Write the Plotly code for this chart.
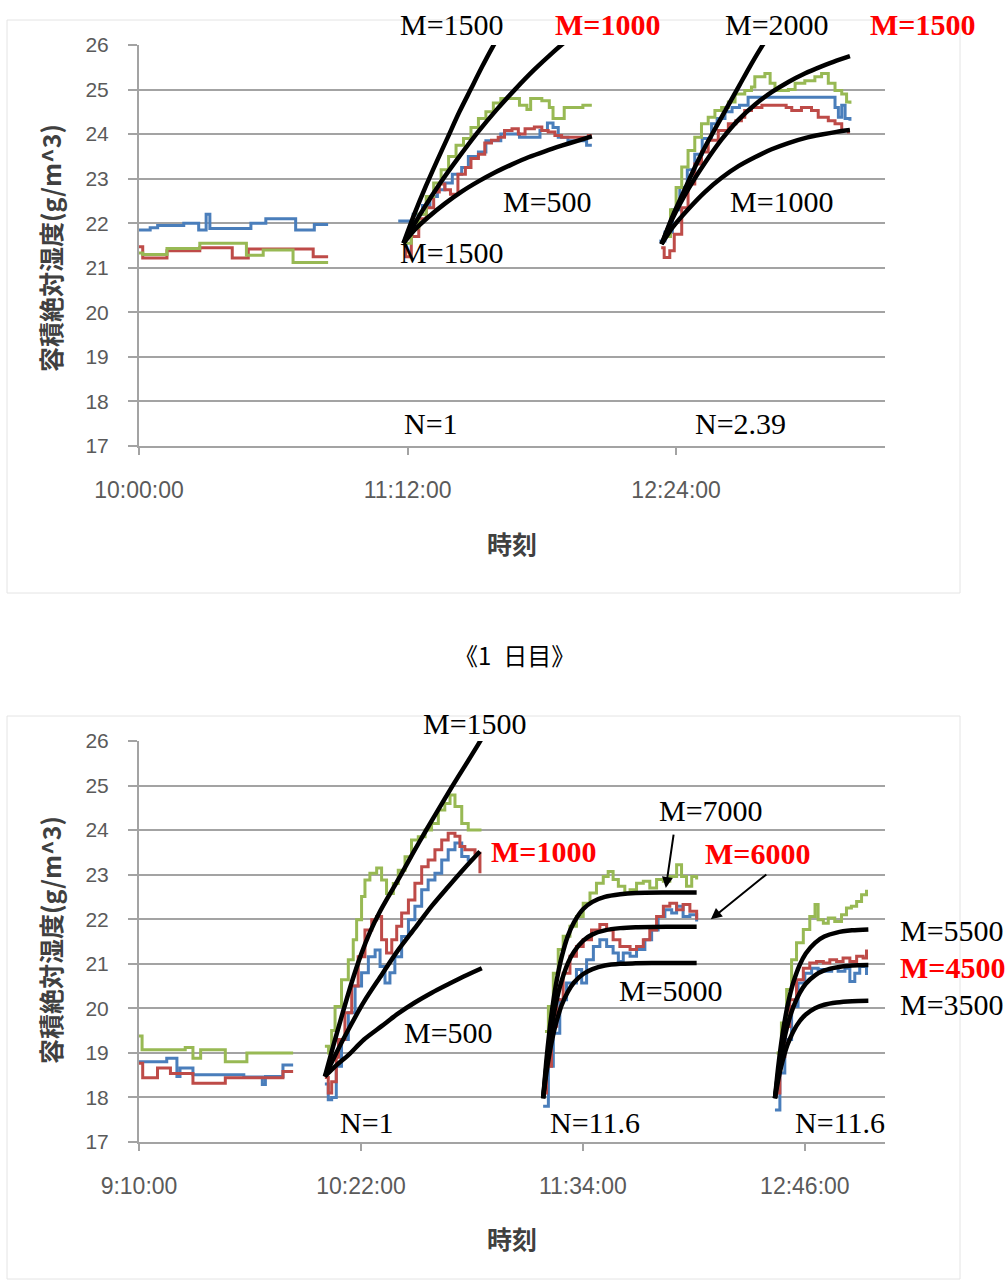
import pandas as pd
import plotly.graph_objects as go

W, H = 1008, 1284

# ---------------- Day 1 : elapsed minutes after 10:00:00 ----------------
d1_base = "2000-01-01 10:00:00"
d1_tick_labels = ["10:00:00", "11:12:00", "12:24:00"]
d1_end_min = 200

# measured absolute humidity, before the occupants enter
d1_pre_blue_t = [0, 3, 5, 12, 16, 18, 19, 30, 34, 42, 47, 50.7]
d1_pre_blue_v = [21.85, 21.90, 21.95, 22.00, 21.85, 22.20, 21.88, 22.00, 22.10, 21.85, 21.97, 21.97]
d1_pre_red_t = [0, 1, 7.5, 16.3, 25, 29.3, 46.7, 50.7]
d1_pre_red_v = [21.47, 21.22, 21.38, 21.45, 21.22, 21.42, 21.25, 21.25]
d1_pre_green_t = [0, 1, 7.5, 16.3, 28.8, 33.3, 41.3, 50.7]
d1_pre_green_v = [21.33, 21.30, 21.43, 21.55, 21.28, 21.40, 21.12, 21.12]

# first occupied period (N=1)
d1_s1_blue_t = [69.5, 73.5, 76, 78, 80, 82, 84, 86.5, 88.3, 91, 93, 97, 102, 107.5, 109.5, 111, 112.4, 115, 120, 121.4]
d1_s1_blue_v = [22.05, 22.2, 22.4, 22.6, 22.75, 22.9, 23.1, 23.25, 23.5, 23.6, 23.85, 24.0, 23.93, 24.08, 24.25, 24.15, 23.93, 23.85, 23.75, 23.75]
d1_s1_red_t = [71, 71.5, 73, 75, 77, 79, 80.5, 82, 83.5, 85.5, 87.5, 89, 91, 92.7, 94.5, 96.3, 98, 100, 101.7, 103.5, 106, 108, 109.7, 111.5, 113.3, 120.5, 121.4]
d1_s1_red_v = [21.5, 21.25, 21.7, 22.1, 22.35, 22.7, 22.88, 22.75, 22.65, 23.1, 23.25, 23.45, 23.55, 23.8, 23.86, 23.93, 24.08, 24.12, 24.0, 24.12, 24.16, 24.08, 24.05, 23.97, 23.93, 23.97, 23.97]
d1_s1_green_t = [70.8, 73, 75, 77, 79, 81, 83, 85, 87, 89, 91, 93, 95, 97, 100, 102, 104, 105, 108, 110, 111, 113, 114, 117, 119, 121.4]
d1_s1_green_v = [21.55, 21.9, 22.2, 22.6, 22.9, 23.2, 23.5, 23.75, 23.9, 24.15, 24.35, 24.5, 24.7, 24.8, 24.8, 24.65, 24.55, 24.8, 24.75, 24.6, 24.35, 24.35, 24.6, 24.6, 24.65, 24.65]

# second occupied period (N=2.39)
d1_s2_blue_t = [139.5, 141, 143, 145, 147, 149, 151, 153.5, 155, 157.1, 159, 161, 163.3, 184.8, 186.6, 187.5, 188.4, 189.3, 190.6]
d1_s2_blue_v = [21.6, 21.8, 22.3, 22.8, 23.2, 23.55, 23.9, 24.23, 24.35, 24.5, 24.6, 24.65, 24.83, 24.83, 24.6, 24.38, 24.65, 24.35, 24.3]
d1_s2_red_t = [140, 140.8, 142.3, 143.5, 145.5, 147.2, 149, 150.8, 152.6, 155.3, 158, 160, 161.5, 162.4, 164.2, 167, 170.5, 173.5, 175, 177.6, 180.3, 182.1, 184.8, 186.6, 188.4, 190.2, 190.6]
d1_s2_red_v = [21.45, 21.23, 21.38, 21.75, 22.35, 22.88, 23.33, 23.6, 23.86, 24.08, 24.23, 24.3, 24.38, 24.53, 24.6, 24.65, 24.65, 24.6, 24.53, 24.6, 24.53, 24.38, 24.3, 24.23, 24.08, 24.05, 24.05]
d1_s2_green_t = [140.5, 142.5, 144, 145.5, 147.2, 149, 150.8, 152.6, 154.4, 156.2, 158, 159.8, 162.4, 164.2, 165.1, 167.8, 169.2, 170.5, 174.1, 175.9, 178.5, 181.2, 183, 184.8, 186.6, 188.4, 189.7, 190.6]
d1_s2_green_v = [21.7, 22.3, 22.8, 23.26, 23.63, 23.93, 24.23, 24.38, 24.53, 24.6, 24.72, 24.9, 24.98, 25.06, 25.29, 25.36, 25.14, 24.98, 25.0, 25.14, 25.2, 25.29, 25.36, 25.14, 24.98, 24.9, 24.72, 24.68]

# calculated curves, period 1 (N=1)
d1_m1500_a_t = [70.9, 73.9, 76.9, 79.9, 82.9, 85.9, 88.9, 91.9, 94.9, 97.9]
d1_m1500_a_v = [21.55, 22.22, 22.83, 23.4, 23.95, 24.5, 25.0, 25.5, 25.97, 26.4]
d1_m1000_a_t = [70.9, 75.9, 80.9, 85.9, 90.9, 95.9, 100.9, 105.9, 110.9, 115.9]
d1_m1000_a_v = [21.55, 22.27, 22.92, 23.5, 24.05, 24.55, 25.01, 25.44, 25.83, 26.19]
d1_m500_a_t = [70.9, 74, 77.6, 82, 86.5, 91, 95.4, 100, 104.4, 109, 113.3, 117.5, 121.4]
d1_m500_a_v = [21.55, 21.86, 22.14, 22.44, 22.71, 22.94, 23.14, 23.32, 23.48, 23.62, 23.74, 23.85, 23.95]

# calculated curves, period 2 (N=2.39)
d1_m2000_b_t = [140.1, 143, 146, 149, 152, 155, 158, 161, 164, 167, 170]
d1_m2000_b_v = [21.53, 22.15, 22.7, 23.25, 23.75, 24.2, 24.65, 25.1, 25.55, 25.97, 26.35]
d1_m1500_b_t = [140.1, 143, 147.3, 151.7, 156.2, 160.7, 165.1, 169.6, 174.1, 178.5, 183, 187, 190.6]
d1_m1500_b_v = [21.53, 22.1, 22.77, 23.35, 23.88, 24.32, 24.66, 24.94, 25.17, 25.36, 25.52, 25.65, 25.75]
d1_m1000_b_t = [140.1, 143, 147.3, 151.7, 156.2, 160.7, 165.1, 169.6, 174.1, 178.5, 183, 187, 190.6]
d1_m1000_b_v = [21.53, 21.9, 22.32, 22.7, 23.02, 23.28, 23.48, 23.66, 23.8, 23.91, 23.99, 24.05, 24.09]

# ---------------- Day 2 : elapsed minutes after 9:10:00 ----------------
d2_base = "2000-01-01 09:10:00"
d2_tick_labels = ["9:10:00", "10:22:00", "11:34:00", "12:46:00"]
d2_end_min = 242

d2_pre_blue_t = [0, 9, 12.3, 13.3, 17.5, 34, 40, 41, 46.7, 50]
d2_pre_blue_v = [18.8, 18.88, 18.47, 18.66, 18.51, 18.46, 18.29, 18.47, 18.73, 18.73]
d2_pre_red_t = [0, 1.2, 6, 10.2, 17.5, 28, 46.7, 50]
d2_pre_red_v = [18.77, 18.44, 18.66, 18.54, 18.32, 18.44, 18.58, 18.58]
d2_pre_green_t = [0, 1, 15, 17.5, 20, 28, 35, 50]
d2_pre_green_v = [19.38, 19.07, 19.12, 18.88, 19.07, 18.8, 19.0, 19.0]

# period 1 (N=1)
d2_s1_blue_t = [60.3, 61.4, 62.5, 64, 65.7, 67.9, 70.1, 72.2, 74.4, 76.6, 78.2, 79.8, 81.4, 83, 85.2, 87.4, 89.5, 91.7, 93.8, 96, 98.2, 100.3, 102.5, 104.7, 106.8, 108]
d2_s1_blue_v = [18.3, 17.95, 18.0, 18.7, 19.3, 19.9, 20.5, 20.8, 21.16, 21.31, 20.94, 20.57, 20.8, 21.16, 21.61, 21.99, 22.29, 22.66, 22.88, 23.03, 23.33, 23.56, 23.71, 23.41, 23.33, 23.33]
d2_s1_red_t = [60.3, 61.4, 62.5, 64, 64.7, 66.8, 69, 71.1, 73.3, 75.5, 77.1, 78.7, 80.3, 82, 83.6, 85.2, 87.4, 89.5, 91.7, 93.8, 96, 98.2, 100.3, 102.5, 104.1, 105.7, 109, 110.6]
d2_s1_red_v = [18.45, 18.1, 18.35, 18.9, 19.3, 19.9, 20.5, 21.16, 21.76, 21.99, 22.06, 21.54, 21.24, 21.54, 21.84, 22.14, 22.43, 22.81, 23.18, 23.33, 23.56, 23.78, 23.93, 23.86, 23.63, 23.56, 23.48, 23.03]
d2_s1_green_t = [60.3, 61.5, 62.5, 63.6, 65.7, 67.9, 69.5, 70.6, 72.2, 73.3, 74.9, 77.1, 78.7, 80.3, 82.5, 84.1, 86.3, 88.4, 90.6, 92.8, 94.9, 97.1, 99.2, 100.9, 102.5, 104.7, 106.8, 111.1]
d2_s1_green_v = [19.15, 19.0, 19.5, 20.04, 20.64, 21.09, 21.54, 21.99, 22.51, 22.88, 23.03, 23.15, 22.88, 22.58, 22.8, 23.1, 23.4, 23.78, 23.85, 24.0, 24.15, 24.45, 24.6, 24.79, 24.53, 24.15, 24.0, 24.0]

# period 2 (N=11.6)
d2_s2_blue_t = [131.1, 132.8, 134.4, 136.5, 138.7, 141.9, 143.6, 145.2, 147.4, 149.5, 151.7, 153.8, 155.5, 157.1, 159.3, 161.4, 164.1, 166.3, 168.4, 170.6, 172.8, 174.4, 176.5, 178.7, 180.9]
d2_s2_blue_v = [17.8, 18.7, 19.44, 20.19, 20.57, 20.87, 20.57, 21.09, 21.39, 21.54, 21.39, 21.24, 21.05, 21.24, 21.17, 21.32, 21.54, 21.76, 22.06, 22.21, 22.14, 22.29, 22.06, 22.1, 21.95]
d2_s2_red_t = [131.1, 132.2, 133.8, 135.5, 137.6, 139.8, 141.9, 144.1, 146.8, 149.5, 151.7, 153.8, 156.0, 159.3, 161.4, 163.6, 165.7, 167.9, 170.1, 172.2, 174.4, 176.5, 178.7, 180.9]
d2_s2_red_v = [18.1, 18.7, 19.6, 20.19, 20.79, 21.17, 21.39, 21.54, 21.76, 21.88, 21.76, 21.54, 21.39, 21.32, 21.39, 21.54, 21.76, 22.06, 22.29, 22.36, 22.21, 22.33, 22.18, 21.99]
d2_s2_green_t = [131.7, 132.8, 134.4, 136.0, 137.6, 139.8, 141.9, 144.1, 146.3, 148.4, 150.6, 152.2, 153.8, 155.5, 157.6, 159.3, 161.4, 163.6, 165.7, 167.9, 170.1, 172.2, 174.4, 176.0, 177.6, 179.3, 180.9]
d2_s2_green_v = [19.48, 20.04, 20.79, 21.32, 21.62, 21.84, 22.06, 22.36, 22.59, 22.81, 22.96, 23.07, 22.89, 22.74, 22.59, 22.66, 22.81, 22.85, 22.70, 22.89, 22.85, 22.96, 23.22, 22.96, 22.74, 22.96, 22.89]

# period 3 (N=11.6)
d2_s3_blue_t = [206.3, 207.9, 209.5, 211.7, 213.8, 216.0, 218.2, 220.3, 222.5, 224.7, 226.8, 229.0, 230.6, 232.2, 233.8, 236.0]
d2_s3_blue_v = [17.72, 18.55, 19.3, 20.04, 20.57, 20.79, 20.9, 20.87, 20.83, 20.9, 20.83, 20.9, 20.6, 20.79, 20.94, 20.75]
d2_s3_red_t = [206.3, 207.9, 209.5, 211.1, 213.3, 215.5, 217.6, 219.8, 222.0, 224.1, 226.3, 228.4, 230.6, 232.8, 234.9, 236.0]
d2_s3_red_v = [18.1, 18.92, 19.59, 20.19, 20.64, 20.9, 21.02, 21.05, 21.02, 21.09, 21.05, 21.13, 21.05, 21.17, 21.13, 21.32]
d2_s3_green_t = [206.8, 208.4, 210.1, 211.7, 213.3, 215.5, 217.6, 219.3, 220.3, 222.0, 223.6, 225.7, 227.9, 229.5, 231.1, 232.8, 234.4, 236.0]
d2_s3_green_v = [19.0, 19.67, 20.42, 21.09, 21.47, 21.77, 22.06, 22.33, 21.99, 21.91, 22.03, 21.95, 22.1, 22.25, 22.29, 22.4, 22.55, 22.66]

# calculated curves, period 1
d2_m1500_a_t = [60.3, 63, 66, 69, 72, 75, 78, 81.5, 85, 89, 93, 97, 101.5, 106, 110, 112]
d2_m1500_a_v = [18.47, 19.15, 19.88, 20.58, 21.2, 21.72, 22.15, 22.58, 23.0, 23.5, 23.98, 24.45, 24.97, 25.47, 25.92, 26.15]
d2_m1000_a_t = [60.3, 64, 67.9, 73, 78.7, 84, 89.5, 95, 100.3, 105.5, 110.6]
d2_m1000_a_v = [18.47, 19.0, 19.52, 20.15, 20.75, 21.3, 21.8, 22.3, 22.73, 23.14, 23.52]
d2_m500_a_t = [60.3, 64, 67.9, 73, 78.7, 84, 89.5, 95, 100.3, 105.5, 111.2]
d2_m500_a_v = [18.47, 18.72, 18.95, 19.3, 19.6, 19.88, 20.13, 20.35, 20.54, 20.72, 20.9]

# calculated curves, period 2
d2_curve_b_t = [131.1, 132.1, 133.1, 134.1, 135.1, 136.1, 137.1, 139.1, 141.1, 144.1, 147.1, 151.1, 156.1, 161.1, 171.1, 180.9]
d2_m7000_b_v = [17.98, 18.79, 19.46, 20.01, 20.47, 20.84, 21.15, 21.62, 21.93, 22.23, 22.39, 22.50, 22.56, 22.59, 22.60, 22.60]
d2_m6000_b_v = [17.98, 18.66, 19.22, 19.67, 20.06, 20.37, 20.62, 21.01, 21.27, 21.52, 21.66, 21.75, 21.80, 21.82, 21.83, 21.83]
d2_m5000_b_v = [17.98, 18.52, 18.96, 19.32, 19.62, 19.86, 20.07, 20.37, 20.58, 20.77, 20.88, 20.96, 21.00, 21.01, 21.02, 21.02]

# calculated curves, period 3
d2_curve_c_t = [206.3, 207.3, 208.3, 209.3, 210.3, 211.3, 212.3, 214.3, 216.3, 219.3, 222.3, 226.3, 231.3, 236.6]
d2_m5500_c_v = [17.98, 18.65, 19.20, 19.65, 20.03, 20.34, 20.59, 20.97, 21.23, 21.47, 21.61, 21.70, 21.75, 21.77]
d2_m4500_c_v = [17.98, 18.51, 18.94, 19.30, 19.60, 19.84, 20.04, 20.34, 20.55, 20.74, 20.85, 20.92, 20.96, 20.97]
d2_m3500_c_v = [17.98, 18.37, 18.69, 18.95, 19.17, 19.34, 19.49, 19.71, 19.86, 20.00, 20.08, 20.13, 20.16, 20.17]

# ---------------- styling ----------------
BLUE, RED, GREEN = "#4a7ebb", "#be4b48", "#98b954"
GRID = "#a3a3a3"
TICK_FONT = "Liberation Sans"
LABEL_FONT = "Liberation Serif"
CJK_FONT = "Noto Sans CJK JP"


def clock(base, minutes):
    start = pd.Timestamp(base)
    return [start + pd.Timedelta(minutes=m) for m in minutes]


fig = go.Figure()


def measured(base, t, v, color, xa, ya):
    fig.add_trace(go.Scatter(x=clock(base, t), y=v, mode="lines", line=dict(color=color, width=3, shape="hv"),
                             xaxis=xa, yaxis=ya, hoverinfo="skip"))


def model(base, t, v, xa, ya):
    fig.add_trace(go.Scatter(x=clock(base, t), y=v, mode="lines", line=dict(color="black", width=4.5, shape="spline", smoothing=0.8),
                             xaxis=xa, yaxis=ya, hoverinfo="skip"))


# day 1 measured
for t, v, c in [
    (d1_pre_blue_t, d1_pre_blue_v, BLUE), (d1_pre_red_t, d1_pre_red_v, RED), (d1_pre_green_t, d1_pre_green_v, GREEN),
    (d1_s1_blue_t, d1_s1_blue_v, BLUE), (d1_s1_red_t, d1_s1_red_v, RED), (d1_s1_green_t, d1_s1_green_v, GREEN),
    (d1_s2_blue_t, d1_s2_blue_v, BLUE), (d1_s2_red_t, d1_s2_red_v, RED), (d1_s2_green_t, d1_s2_green_v, GREEN),
]:
    measured(d1_base, t, v, c, "x", "y")

# day 1 calculated
for t, v in [
    (d1_m1500_a_t, d1_m1500_a_v), (d1_m1000_a_t, d1_m1000_a_v), (d1_m500_a_t, d1_m500_a_v),
    (d1_m2000_b_t, d1_m2000_b_v), (d1_m1500_b_t, d1_m1500_b_v), (d1_m1000_b_t, d1_m1000_b_v),
]:
    model(d1_base, t, v, "x", "y")

# day 2 measured
for t, v, c in [
    (d2_pre_blue_t, d2_pre_blue_v, BLUE), (d2_pre_red_t, d2_pre_red_v, RED), (d2_pre_green_t, d2_pre_green_v, GREEN),
    (d2_s1_blue_t, d2_s1_blue_v, BLUE), (d2_s1_red_t, d2_s1_red_v, RED), (d2_s1_green_t, d2_s1_green_v, GREEN),
    (d2_s2_blue_t, d2_s2_blue_v, BLUE), (d2_s2_red_t, d2_s2_red_v, RED), (d2_s2_green_t, d2_s2_green_v, GREEN),
    (d2_s3_blue_t, d2_s3_blue_v, BLUE), (d2_s3_red_t, d2_s3_red_v, RED), (d2_s3_green_t, d2_s3_green_v, GREEN),
]:
    measured(d2_base, t, v, c, "x2", "y2")

# day 2 calculated
for t, v in [
    (d2_m1500_a_t, d2_m1500_a_v), (d2_m1000_a_t, d2_m1000_a_v), (d2_m500_a_t, d2_m500_a_v),
    (d2_curve_b_t, d2_m7000_b_v), (d2_curve_b_t, d2_m6000_b_v), (d2_curve_b_t, d2_m5000_b_v),
    (d2_curve_c_t, d2_m5500_c_v), (d2_curve_c_t, d2_m4500_c_v), (d2_curve_c_t, d2_m3500_c_v),
]:
    model(d2_base, t, v, "x2", "y2")


def xaxis_style(base, labels, end_min, domain, anchor):
    day = pd.Timestamp(base).strftime("%Y-%m-%d ")
    return dict(
        domain=domain, anchor=anchor, type="date", automargin=False,
        range=[pd.Timestamp(base), pd.Timestamp(base) + pd.Timedelta(minutes=end_min)],
        tickvals=[pd.Timestamp(day + s) for s in labels], ticktext=labels,
        showgrid=False, zeroline=False, showline=True, linecolor=GRID, linewidth=2,
        ticks="outside", ticklen=7, tickwidth=1.5, tickcolor=GRID,
        ticklabelstandoff=15,
        tickfont=dict(family=TICK_FONT, size=23, color="#5a5a5a"),
    )


def yaxis_style(domain, anchor):
    return dict(
        domain=domain, anchor=anchor, range=[17, 26], dtick=1, automargin=False,
        showgrid=True, gridcolor=GRID, gridwidth=2, zeroline=False,
        showline=True, linecolor=GRID, linewidth=2,
        ticks="outside", ticklen=9, tickwidth=2, tickcolor=GRID,
        ticklabelstandoff=15,
        tickfont=dict(family=TICK_FONT, size=21, color="#5a5a5a"),
    )


X_DOM = [139 / W, 885 / W]
TOP_DOM = [1 - 446 / H, 1 - 45 / H]
BOT_DOM = [1 - 1142 / H, 1 - 741 / H]

annotations = []


def label(text, x, y, color="black", bold=False, size=30, font=LABEL_FONT, angle=0):
    annotations.append(dict(
        text=f"<b>{text}</b>" if bold else text, x=x / W, y=1 - y / H, xref="paper", yref="paper",
        showarrow=False, xanchor="center", yanchor="middle", textangle=angle,
        font=dict(family=font, size=size, color=color),
    ))


# day 1 labels
label("M=1500", 452, 25)
label("M=1000", 607, 25, "#ff0000", True)
label("M=2000", 777, 25)
label("M=1500", 922, 25, "#ff0000", True)
label("M=500", 547, 201)
label("M=1500", 452, 252)
label("M=1000", 782, 201)
label("N=1", 431, 423)
label("N=2.39", 740, 423)

# day 2 labels
label("M=1500", 475, 723)
label("M=1000", 543, 851, "#ff0000", True)
label("M=7000", 711, 810)
label("M=6000", 757, 853, "#ff0000", True)
label("M=500", 448, 1032)
label("M=5000", 671, 990)
label("M=5500", 952, 930)
label("M=4500", 952, 967, "#ff0000", True)
label("M=3500", 952, 1005)
label("N=1", 367, 1122)
label("N=11.6", 595, 1122)
label("N=11.6", 840, 1122)

# axis titles and caption
for yc in (248, 940):
    label("容積絶対湿度(g/m^3)", 50, yc, "#404040", True, 25, CJK_FONT, -90)
for yc in (543, 1238):
    label("時刻", 512, yc, "#404040", True, 25, CJK_FONT)
label("《1\u2002日目》", 514, 654, "black", False, 24, CJK_FONT)

# arrows pointing to the M=7000 and M=6000 curves
for head_t, head_v, dx, dy in [(170.9, 22.7, 8, -55), (185.5, 22.0, 57, -46)]:
    annotations.append(dict(
        x=pd.Timestamp(d2_base) + pd.Timedelta(minutes=head_t), y=head_v, xref="x2", yref="y2",
        ax=dx, ay=dy, axref="pixel", ayref="pixel", text="", showarrow=True,
        arrowhead=2, arrowsize=1.1, arrowwidth=2, arrowcolor="black",
    ))

# faint chart-area frames
shapes = [
    dict(type="rect", xref="paper", yref="paper", x0=7 / W, x1=960 / W, y0=1 - 593 / H, y1=1 - 20 / H,
         line=dict(color="#e4e4e4", width=1)),
    dict(type="rect", xref="paper", yref="paper", x0=7 / W, x1=960 / W, y0=1 - 1279 / H, y1=1 - 716 / H,
         line=dict(color="#e4e4e4", width=1)),
]

fig.update_layout(
    width=W, height=H, margin=dict(l=0, r=0, t=0, b=0, pad=0, autoexpand=False),
    paper_bgcolor="white", plot_bgcolor="white", showlegend=False,
    xaxis=xaxis_style(d1_base, d1_tick_labels, d1_end_min, X_DOM, "y"),
    yaxis=yaxis_style(TOP_DOM, "x"),
    xaxis2=xaxis_style(d2_base, d2_tick_labels, d2_end_min, X_DOM, "y2"),
    yaxis2=yaxis_style(BOT_DOM, "x2"),
    annotations=annotations, shapes=shapes,
)

fig.write_html("out.html")
